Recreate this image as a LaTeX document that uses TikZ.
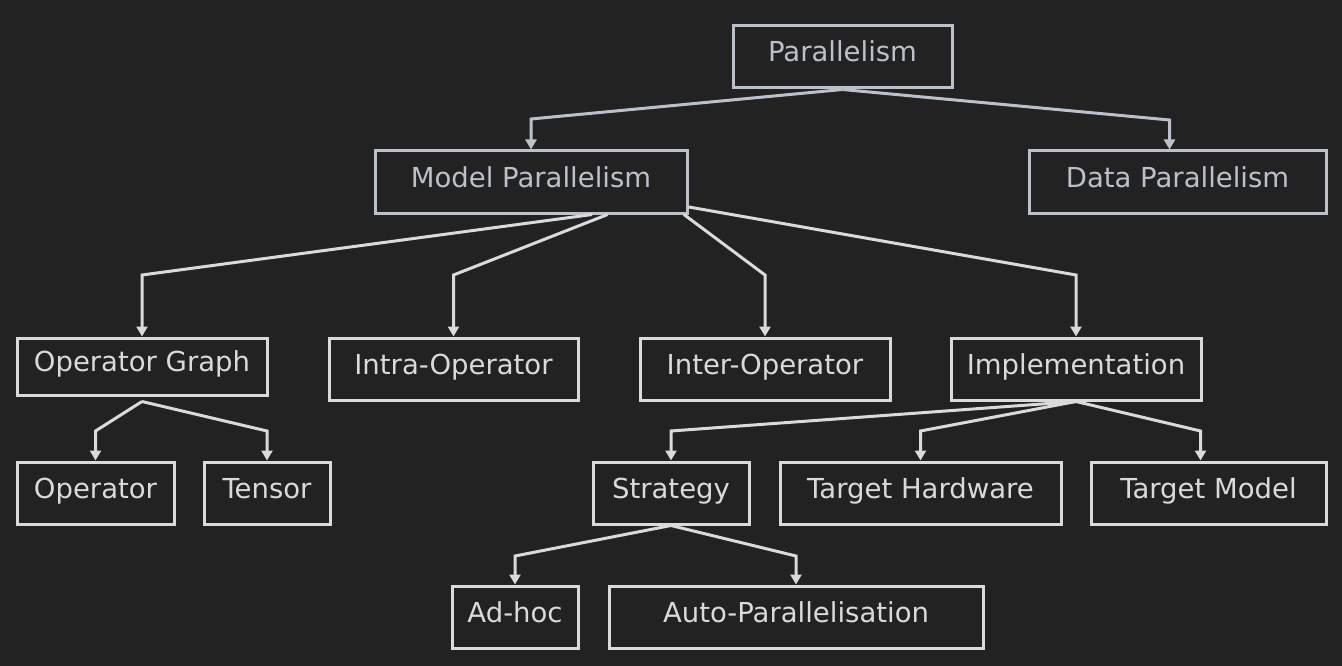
\documentclass[tikz,border=0pt]{standalone}
\usepackage{fontspec}
\setmainfont{DejaVu Sans}
\usetikzlibrary{arrows.meta}
\definecolor{bgcol}{RGB}{34,34,34}
\definecolor{topcol}{RGB}{187,193,203}
\definecolor{lowcol}{RGB}{218,218,218}
\begin{document}
\begin{tikzpicture}[x=1pt, y=-1pt,
    box/.style={draw=lowcol, text=lowcol, line width=3pt, minimum height=62pt,
      inner sep=0pt, text height=20pt, text depth=10pt,
      font=\fontsize{27.5}{33}\selectfont},
    topbox/.style={box, draw=topcol, text=topcol},
    edge/.style={draw=lowcol, line width=3pt, -{Triangle[width=11pt,length=10pt]}},
    topedge/.style={edge, draw=topcol}]
  % Background and frame of the page
  \fill[bgcol] (0,0) rectangle (1342,666);
  \useasboundingbox (0,0) rectangle (1342,666);
  % Top level
  \node[topbox, minimum width=219pt] (par) at (842.5,57) {Parallelism};
  \node[topbox, minimum width=312pt] (mp) at (531,182) {Model Parallelism};
  \node[topbox, minimum width=297pt] (dp) at (1177.5,182) {Data Parallelism};
  % Second level under model parallelism
  \node[box, minimum width=250pt, minimum height=57pt] (og) at (142,366.5) {Operator Graph};
  \node[box, minimum width=249pt] (intra) at (453.5,369) {Intra-Operator};
  \node[box, minimum width=250pt] (inter) at (765,369) {Inter-Operator};
  \node[box, minimum width=250pt] (impl) at (1076,369) {Implementation};
  % Third level
  \node[box, minimum width=157pt] (op) at (95.5,493) {Operator};
  \node[box, minimum width=126pt] (tensor) at (267,493) {Tensor};
  \node[box, minimum width=156pt] (strat) at (671,493) {Strategy};
  \node[box, minimum width=281pt] (hw) at (920.5,493) {Target Hardware};
  \node[box, minimum width=235pt] (tm) at (1208.5,493) {Target Model};
  % Fourth level
  \node[box, minimum width=126pt] (adhoc) at (515,617) {Ad-hoc};
  \node[box, minimum width=374pt] (auto) at (796,617) {Auto-Parallelisation};
  % Entry points that sit off the box centre
  \coordinate (dpin) at ([xshift=-8pt]dp.north);
  \coordinate (tmin) at ([xshift=-8pt]tm.north);
  \coordinate (ogout) at ([yshift=-5pt]og.south);
  % Edges from the root
  \draw[topedge] (par.south) -- (mp.north |- 0,119) -- (mp.north);
  \draw[topedge] (par.south) -- (dpin |- 0,120) -- (dpin);
  % Edges from model parallelism
  \draw[edge] (mp.-28) -- (og.north |- 0,275) -- (og.north);
  \draw[edge] (mp.-23) -- (intra.north |- 0,275) -- (intra.north);
  \draw[edge] (mp.-12) -- (inter.north |- 0,275) -- (inter.north);
  \draw[edge] (mp.-9) -- (impl.north |- 0,275) -- (impl.north);
  % Edges from operator graph
  \draw[edge] (ogout) -- (op.north |- 0,431) -- (op.north);
  \draw[edge] (ogout) -- (tensor.north |- 0,431) -- (tensor.north);
  % Edges from implementation
  \draw[edge] (impl.south) -- (strat.north |- 0,431) -- (strat.north);
  \draw[edge] (impl.south) -- (hw.north |- 0,431) -- (hw.north);
  \draw[edge] (impl.south) -- (tmin |- 0,431) -- (tmin);
  % Edges from strategy
  \draw[edge] (strat.south) -- (adhoc.north |- 0,556) -- (adhoc.north);
  \draw[edge] (strat.south) -- (auto.north |- 0,556) -- (auto.north);
\end{tikzpicture}
\end{document}
